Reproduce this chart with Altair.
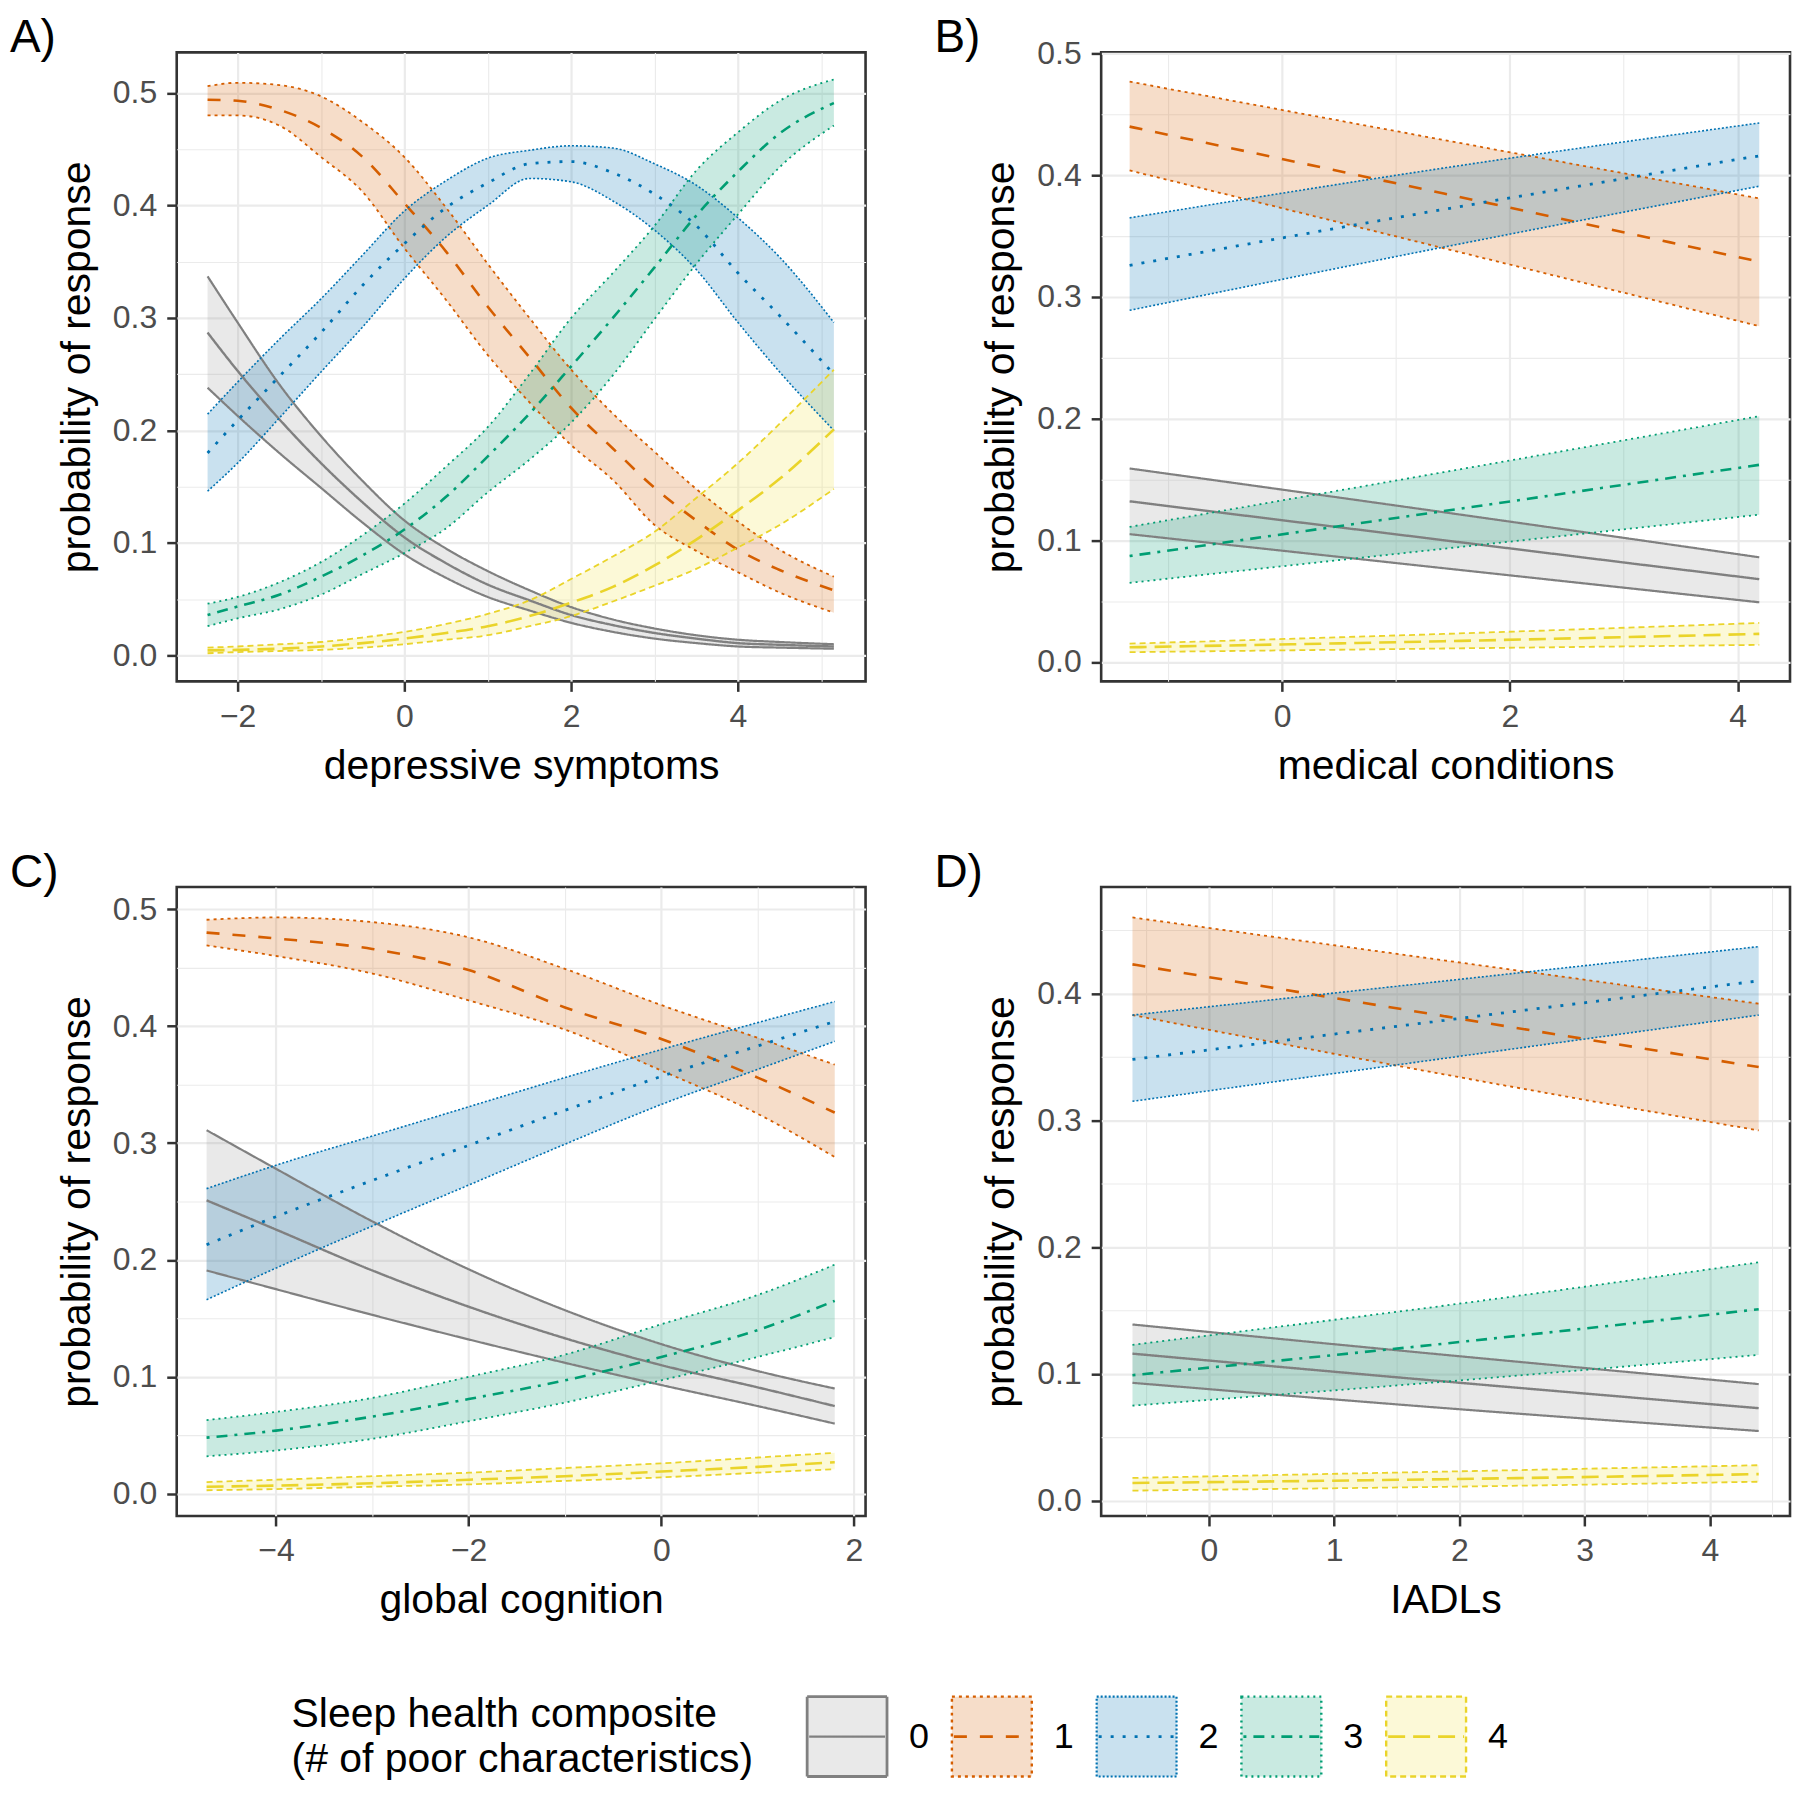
import altair as alt
import pandas as pd

FONT = "Liberation Sans"
GROUPS = ["0", "1", "2", "3", "4"]
LINE_COLORS = ["#808080", "#D55E00", "#0072B2", "#009E73", "#EAD42A"]
FILL_COLORS = ["#999999", "#D55E00", "#0072B2", "#009E73", "#F0E442"]
MID_DASH = [[1, 0], [13, 13], [3, 9], [3, 7, 11, 7], [17, 8]]
EDGE_DASH = [[1, 0], [3, 4], [2, 2], [2, 4], [6, 4]]
MID_WIDTH = [2.4, 2.6, 2.8, 2.6, 2.6]
EDGE_WIDTH = [2.2, 1.8, 1.6, 1.8, 1.8]
FILL_OPACITY = 0.21

LEGEND_TITLE = "Sleep health composite\n(# of poor characteristics)"
Y_TITLE = "probability of response"

# ---------------- Panel A: depressive symptoms ----------------
A_X = [-2.36, -2, -1.5, -1, -0.5, 0, 0.5, 1, 1.5, 2, 2.5, 3, 3.5, 4, 4.5, 5.15]
A0_HI = [0.337, 0.296, 0.241, 0.195, 0.155, 0.120, 0.095, 0.075, 0.058, 0.043, 0.032, 0.024, 0.018, 0.014, 0.012, 0.010]
A0_MID = [0.287, 0.253, 0.210, 0.171, 0.136, 0.105, 0.082, 0.063, 0.049, 0.036, 0.027, 0.020, 0.015, 0.011, 0.0095, 0.008]
A0_LO = [0.238, 0.213, 0.180, 0.149, 0.118, 0.090, 0.069, 0.052, 0.040, 0.029, 0.021, 0.015, 0.011, 0.008, 0.007, 0.006]
A1_HI = [0.506, 0.509, 0.507, 0.497, 0.474, 0.443, 0.398, 0.348, 0.300, 0.254, 0.215, 0.181, 0.148, 0.119, 0.094, 0.070]
A1_MID = [0.494, 0.493, 0.485, 0.469, 0.443, 0.402, 0.359, 0.310, 0.265, 0.220, 0.184, 0.149, 0.120, 0.094, 0.076, 0.058]
A1_LO = [0.480, 0.480, 0.471, 0.443, 0.412, 0.362, 0.316, 0.267, 0.225, 0.187, 0.156, 0.116, 0.093, 0.074, 0.056, 0.038]
A2_HI = [0.2145, 0.243, 0.281, 0.317, 0.356, 0.395, 0.422, 0.442, 0.449, 0.453, 0.451, 0.437, 0.418, 0.389, 0.354, 0.296]
A2_MID = [0.180, 0.209, 0.248, 0.287, 0.329, 0.366, 0.398, 0.420, 0.437, 0.439, 0.429, 0.410, 0.382, 0.340, 0.302, 0.250]
A2_LO = [0.146, 0.171, 0.211, 0.252, 0.292, 0.335, 0.372, 0.400, 0.424, 0.421, 0.404, 0.378, 0.343, 0.296, 0.252, 0.200]
A3_HI = [0.046, 0.052, 0.065, 0.083, 0.107, 0.135, 0.168, 0.203, 0.250, 0.300, 0.340, 0.382, 0.431, 0.465, 0.493, 0.512]
A3_MID = [0.036, 0.0435, 0.054, 0.070, 0.089, 0.112, 0.141, 0.177, 0.215, 0.257, 0.300, 0.345, 0.391, 0.430, 0.464, 0.491]
A3_LO = [0.026, 0.033, 0.041, 0.054, 0.0725, 0.091, 0.113, 0.145, 0.174, 0.207, 0.249, 0.299, 0.348, 0.392, 0.434, 0.471]
A4_HI = [0.007, 0.008, 0.010, 0.012, 0.016, 0.021, 0.028, 0.037, 0.049, 0.068, 0.088, 0.110, 0.140, 0.171, 0.206, 0.254]
A4_MID = [0.0045, 0.005, 0.006, 0.008, 0.011, 0.015, 0.020, 0.026, 0.035, 0.047, 0.061, 0.080, 0.103, 0.129, 0.157, 0.201]
A4_LO = [0.002, 0.003, 0.004, 0.005, 0.007, 0.010, 0.014, 0.018, 0.026, 0.035, 0.048, 0.062, 0.077, 0.096, 0.116, 0.148]

# ---------------- Panel B: medical conditions ----------------
B_X = [-1.34, 1.42, 4.19]
B0_HI = [0.159, 0.123, 0.086]
B0_MID = [0.132, 0.100, 0.068]
B0_LO = [0.105, 0.077, 0.049]
B1_HI = [0.477, 0.429, 0.381]
B1_MID = [0.440, 0.385, 0.329]
B1_LO = [0.404, 0.340, 0.276]
B2_HI = [0.365, 0.406, 0.443]
B2_MID = [0.326, 0.372, 0.416]
B2_LO = [0.289, 0.341, 0.391]
B3_HI = [0.111, 0.156, 0.202]
B3_MID = [0.087, 0.124, 0.162]
B3_LO = [0.065, 0.093, 0.121]
B4_HI = [0.015, 0.023, 0.032]
B4_MID = [0.012, 0.017, 0.023]
B4_LO = [0.008, 0.011, 0.014]

# ---------------- Panel C: global cognition ----------------
C_X = [-4.72, -4, -3, -2, -1, 0, 1, 1.8]
C0_HI = [0.311, 0.278, 0.233, 0.192, 0.157, 0.128, 0.105, 0.090]
C0_MID = [0.251, 0.226, 0.191, 0.160, 0.133, 0.110, 0.091, 0.075]
C0_LO = [0.191, 0.175, 0.153, 0.132, 0.112, 0.093, 0.075, 0.060]
C1_HI = [0.491, 0.493, 0.489, 0.476, 0.449, 0.418, 0.390, 0.367]
C1_MID = [0.480, 0.475, 0.466, 0.448, 0.416, 0.389, 0.356, 0.326]
C1_LO = [0.469, 0.460, 0.445, 0.422, 0.397, 0.362, 0.325, 0.288]
C2_HI = [0.261, 0.281, 0.306, 0.331, 0.356, 0.380, 0.403, 0.421]
C2_MID = [0.213, 0.237, 0.268, 0.298, 0.328, 0.357, 0.383, 0.404]
C2_LO = [0.166, 0.193, 0.229, 0.264, 0.299, 0.333, 0.363, 0.387]
C3_HI = [0.063, 0.070, 0.082, 0.100, 0.119, 0.145, 0.170, 0.196]
C3_MID = [0.048, 0.054, 0.066, 0.081, 0.097, 0.117, 0.140, 0.165]
C3_LO = [0.032, 0.037, 0.047, 0.062, 0.078, 0.097, 0.117, 0.134]
C4_HI = [0.010, 0.012, 0.015, 0.018, 0.022, 0.026, 0.031, 0.035]
C4_MID = [0.006, 0.007, 0.009, 0.012, 0.015, 0.019, 0.023, 0.027]
C4_LO = [0.003, 0.004, 0.006, 0.008, 0.011, 0.014, 0.018, 0.021]

# ---------------- Panel D: IADLs ----------------
D_X = [-0.61, 1.89, 4.39]
D0_HI = [0.139, 0.115, 0.092]
D0_MID = [0.116, 0.094, 0.073]
D0_LO = [0.093, 0.073, 0.055]
D1_HI = [0.460, 0.426, 0.392]
D1_MID = [0.423, 0.382, 0.342]
D1_LO = [0.383, 0.336, 0.292]
D2_HI = [0.383, 0.410, 0.437]
D2_MID = [0.348, 0.379, 0.410]
D2_LO = [0.315, 0.349, 0.383]
D3_HI = [0.123, 0.154, 0.188]
D3_MID = [0.099, 0.124, 0.151]
D3_LO = [0.075, 0.094, 0.115]
D4_HI = [0.018, 0.023, 0.028]
D4_MID = [0.014, 0.017, 0.021]
D4_LO = [0.008, 0.011, 0.015]

# axis tick values (major + minor grid positions)
A_XVALS = [-2, -1, 0, 1, 2, 3, 4, 5]
B_XVALS = [-1, 0, 1, 2, 3, 4]
C_XVALS = [-4, -3, -2, -1, 0, 1, 2]
D_XVALS = [-0.5, 0, 0.5, 1, 1.5, 2, 2.5, 3, 3.5, 4, 4.5]
Y_VALS_50 = [0.0, 0.05, 0.1, 0.15, 0.2, 0.25, 0.3, 0.35, 0.4, 0.45, 0.5]
Y_VALS_45 = [0.0, 0.05, 0.1, 0.15, 0.2, 0.25, 0.3, 0.35, 0.4, 0.45]

PW, PH = 690, 630


def cond(test, yes, no):
    return {"condition": {"test": test, "value": yes}, "value": no}


def make_axis(values, test, fmt, title):
    return alt.Axis(
        values=values,
        title=title,
        labelExpr=f"({test}) ? format(datum.value, '{fmt}') : ''",
        tickOpacity=cond(test, 1, 0),
        gridWidth=cond(test, 2.2, 1.1),
        gridColor="#EBEBEB",
        grid=True,
        domain=False,
        ticks=True,
        tickSize=10,
        tickWidth=2.5,
        tickColor="#333333",
        labelFont=FONT,
        labelFontSize=32,
        labelColor="#4D4D4D",
        labelPadding=10,
        labelOverlap=False,
        labelFlush=False,
        titleFont=FONT,
        titleFontSize=41,
        titleFontWeight="normal",
        titleColor="black",
        titlePadding=14,
    )


Y_TEST = "abs(datum.value * 10 - round(datum.value * 10)) < 0.001"


def panel(label, xs, series, xdom, ydom, xvals, xtest, yvals, xtitle):
    xsc = alt.Scale(domain=xdom, nice=False, zero=False)
    ysc = alt.Scale(domain=ydom, nice=False, zero=False)
    xax = make_axis(xvals, xtest, "d", xtitle)
    yax = make_axis(yvals, Y_TEST, ".1f", Y_TITLE)
    frames = []
    for i, g in enumerate(GROUPS):
        lo, mid, hi = series[i]
        frames.append(pd.DataFrame({"x": xs, "lo": lo, "mid": mid, "hi": hi}))
    layers = []
    for i, df in enumerate(frames):
        layers.append(
            alt.Chart(df).mark_area(color=FILL_COLORS[i], opacity=FILL_OPACITY,
                                    interpolate="monotone").encode(
                x=alt.X("x:Q", scale=xsc, axis=xax),
                y=alt.Y("lo:Q", scale=ysc, axis=yax),
                y2="hi:Q",
            )
        )
    for i, df in enumerate(frames):
        for col in ["lo", "hi"]:
            layers.append(
                alt.Chart(df).mark_line(color=LINE_COLORS[i], strokeWidth=EDGE_WIDTH[i],
                                        strokeDash=EDGE_DASH[i], interpolate="monotone").encode(
                    x=alt.X("x:Q", scale=xsc, axis=xax),
                    y=alt.Y(f"{col}:Q", scale=ysc, axis=yax),
                )
            )
        layers.append(
            alt.Chart(df).mark_line(color=LINE_COLORS[i], strokeWidth=MID_WIDTH[i],
                                    strokeDash=MID_DASH[i], interpolate="monotone").encode(
                x=alt.X("x:Q", scale=xsc, axis=xax),
                y=alt.Y("mid:Q", scale=ysc, axis=yax),
            )
        )
    # panel tag ("A)", "B)", ...) placed above-left of the plot area
    layers.append(
        alt.Chart(pd.DataFrame({"lab": [label]})).mark_text(
            align="left", baseline="top", fontSize=46, font=FONT, color="black").encode(
            x=alt.value(-167), y=alt.value(-36), text="lab:N")
    )
    return alt.layer(*layers).properties(width=PW, height=PH)


pA = panel("A)", A_X,
           [(A0_LO, A0_MID, A0_HI), (A1_LO, A1_MID, A1_HI), (A2_LO, A2_MID, A2_HI),
            (A3_LO, A3_MID, A3_HI), (A4_LO, A4_MID, A4_HI)],
           [-2.73, 5.53], [-0.023, 0.536], A_XVALS, "datum.value % 2 === 0",
           Y_VALS_50, "depressive symptoms")
pB = panel("B)", B_X,
           [(B0_LO, B0_MID, B0_HI), (B1_LO, B1_MID, B1_HI), (B2_LO, B2_MID, B2_HI),
            (B3_LO, B3_MID, B3_HI), (B4_LO, B4_MID, B4_HI)],
           [-1.59, 4.46], [-0.016, 0.501], B_XVALS, "datum.value % 2 === 0",
           Y_VALS_50, "medical conditions")
pC = panel("C)", C_X,
           [(C0_LO, C0_MID, C0_HI), (C1_LO, C1_MID, C1_HI), (C2_LO, C2_MID, C2_HI),
            (C3_LO, C3_MID, C3_HI), (C4_LO, C4_MID, C4_HI)],
           [-5.03, 2.12], [-0.019, 0.519], C_XVALS, "datum.value % 2 === 0",
           Y_VALS_50, "global cognition")
pD = panel("D)", D_X,
           [(D0_LO, D0_MID, D0_HI), (D1_LO, D1_MID, D1_HI), (D2_LO, D2_MID, D2_HI),
            (D3_LO, D3_MID, D3_HI), (D4_LO, D4_MID, D4_HI)],
           [-0.86, 4.64], [-0.012, 0.484], D_XVALS, "datum.value % 1 === 0",
           Y_VALS_45, "IADLs")

# ---------------- legend (origin sits at the left edge of the panel area) ----------------
LEG_Y = 52
BOX = 80
leg_x = alt.X("key:N", scale=alt.Scale(domain=GROUPS, range=[599, 1324]), axis=None)
leg_layers = []
for i, g in enumerate(GROUPS):
    sub = pd.DataFrame({"key": [g]})
    leg_layers.append(
        alt.Chart(sub).mark_point(shape="square", size=BOX * BOX, filled=True,
                                  fill=FILL_COLORS[i], fillOpacity=FILL_OPACITY,
                                  stroke=LINE_COLORS[i], strokeWidth=EDGE_WIDTH[i] + 0.6,
                                  strokeDash=EDGE_DASH[i], opacity=1).encode(
            x=leg_x, y=alt.value(LEG_Y))
    )
    leg_layers.append(
        alt.Chart(sub).mark_point(shape="M-0.95,0L0.95,0", size=BOX * BOX, filled=False,
                                  stroke=LINE_COLORS[i], strokeWidth=MID_WIDTH[i],
                                  strokeDash=MID_DASH[i], opacity=1).encode(
            x=leg_x, y=alt.value(LEG_Y))
    )
    leg_layers.append(
        alt.Chart(sub).mark_text(align="left", baseline="middle", dx=62, fontSize=36,
                                 font=FONT, color="black").encode(
            x=leg_x, y=alt.value(LEG_Y), text="key:N")
    )
leg_layers.append(
    alt.Chart(pd.DataFrame({"t": [LEGEND_TITLE]})).mark_text(
        align="left", baseline="middle", lineBreak="\n", fontSize=41, lineHeight=45,
        font=FONT, color="black").encode(
        x=alt.value(115), y=alt.value(LEG_Y - 22), text="t:N")
)
legend = alt.layer(*leg_layers).properties(
    width=1560, height=98, view=alt.ViewBackground(stroke="transparent"))

chart = alt.vconcat(
    alt.hconcat(pA, pB, spacing=65),
    alt.hconcat(pC, pD, spacing=65),
    legend,
    spacing=60,
).properties(
    padding={"left": 0, "top": 4, "right": 0, "bottom": 0}
).configure(font=FONT).configure_view(stroke="#333333", strokeWidth=2.6)

chart.save("out.html", embed_options={"renderer": "svg", "actions": False})
